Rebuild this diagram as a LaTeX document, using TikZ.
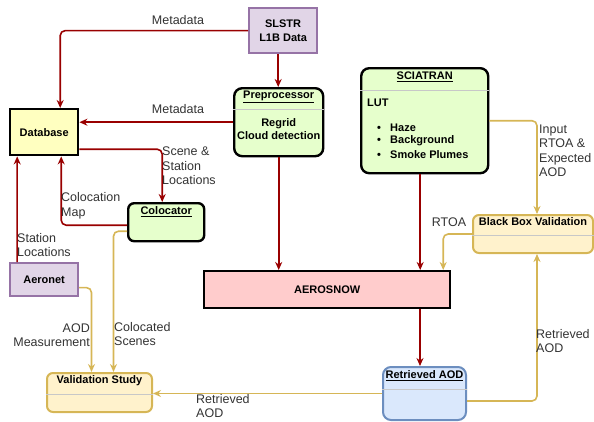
\documentclass[tikz,border=0pt]{standalone}
\usepackage{fontspec}
\setmainfont{Liberation Sans}
\usetikzlibrary{positioning,arrows.meta}

\definecolor{flowred}{HTML}{990000}
\definecolor{flowgold}{HTML}{D6B656}
\definecolor{txtgray}{HTML}{333333}
\definecolor{purfill}{HTML}{E1D5E7}
\definecolor{purline}{HTML}{9673A6}
\definecolor{dbfill}{HTML}{FFFFC0}
\definecolor{grnfill}{HTML}{E6FFCC}
\definecolor{pinkfill}{HTML}{FFCCCC}
\definecolor{ylwfill}{HTML}{FFF2CC}
\definecolor{bluefill}{HTML}{DAE8FC}
\definecolor{blueline}{HTML}{6C8EBF}
\definecolor{sepgray}{HTML}{C8C8C8}

\begin{document}
\begin{tikzpicture}[x=1pt,y=-1pt,
   blk/.style={draw=black, line width=2.4pt, anchor=north west, inner sep=0pt},
   rblk/.style={blk, rounded corners=8pt},
   src/.style={draw=purline, fill=purfill, line width=2.2pt, anchor=north west, inner sep=0pt},
   chk/.style={draw=flowgold, fill=ylwfill, line width=2pt, rounded corners=6pt, anchor=north west, inner sep=0pt},
   res/.style={draw=blueline, fill=bluefill, line width=2pt, rounded corners=8pt, anchor=north west, inner sep=0pt},
   bf/.style={font=\fontsize{11}{13.3}\selectfont\bfseries, inner sep=0pt},
   lbl/.style={font=\fontsize{12.5}{14.5}\selectfont, text=txtgray, inner sep=0pt, align=left},
   sep/.style={draw=sepgray, line width=0.9pt},
   redflow/.style={draw=flowred, line width=1.6pt, rounded corners=5pt, -{Stealth[length=8pt,width=7pt]}},
   goldflow/.style={draw=flowgold, line width=1.6pt, rounded corners=5pt, -{Stealth[length=8pt,width=7pt]}}]
   \useasboundingbox (0,0) rectangle (594,421);

   % boxes
   \node[src, bf, align=center, minimum width=68, minimum height=45] (slstr) at (248,7) {SLSTR\\L1B Data};
   \node[blk, bf, fill=dbfill, minimum width=68, minimum height=46] (db) at (9,108) {Database};
   \node[src, bf, minimum width=68, minimum height=33] (aero) at (9,262) {Aeronet};
   \node[blk, bf, fill=pinkfill, minimum width=246, minimum height=37] (snow) at (203,270) {AEROSNOW};

   \node[rblk, fill=grnfill, minimum width=89, minimum height=68] (pre) at (233,87) {};
   \node[bf] at ([yshift=-10pt]pre.north) {\underline{Preprocessor}};
   \draw[sep] ([yshift=-22pt]pre.north west) -- ([yshift=-22pt]pre.north east);
   \node[bf, align=center] at ([yshift=-42pt]pre.north) {Regrid\\Cloud detection};

   \node[rblk, fill=grnfill, minimum width=127, minimum height=105] (sci) at (360,67) {};
   \node[bf] at ([yshift=-10pt]sci.north) {\underline{SCIATRAN}};
   \draw[sep] ([yshift=-23pt]sci.north west) -- ([yshift=-23pt]sci.north east);
   \node[bf, anchor=west] at (367,103) {LUT};
   \foreach \item [count=\i] in {Haze,Background,Smoke Plumes}
      \node[bf, anchor=west] at (377,114+13.4*\i) {\makebox[13pt][l]{\textbullet}\item};

   \node[rblk, fill=grnfill, rounded corners=6pt, minimum width=76, minimum height=38] (coloc) at (127,202) {};
   \node[bf] at ([yshift=-10pt]coloc.north) {\underline{Colocator}};

   \node[chk, minimum width=120, minimum height=38] (bbv) at (472,214) {};
   \node[bf] at ([yshift=-8pt]bbv.north) {Black Box Validation};
   \draw[sep] ([yshift=-21pt]bbv.north west) -- ([yshift=-21pt]bbv.north east);

   \node[chk, minimum width=105, minimum height=39] (val) at (46,372) {};
   \node[bf] at ([yshift=-9pt]val.north) {Validation Study};
   \draw[sep] ([yshift=-22pt]val.north west) -- ([yshift=-22pt]val.north east);

   \node[res, minimum width=83, minimum height=53] (ret) at (382,366) {};
   \node[bf] at ([yshift=-10pt]ret.north) {\underline{Retrieved AOD}};
   \draw[sep] ([yshift=-23pt]ret.north west) -- ([yshift=-23pt]ret.north east);

   % red flows
   \coordinate (prex) at ([xshift=-0.5pt]pre.north);
   \coordinate (scix) at ([xshift=-4.5pt]sci.south);
   \coordinate (retx) at ([xshift=-4.5pt]ret.north);
   \draw[redflow] (slstr.west) -| ([xshift=16pt]db.north);
   \draw[redflow] (prex |- slstr.south) -- (prex);
   \draw[redflow] (pre.west) -- (pre.west -| db.east);
   \draw[redflow] ([yshift=-17pt]db.east) -| ([xshift=-4pt]coloc.north);
   \draw[redflow] ([yshift=-3pt]coloc.west) -| ([xshift=17pt]db.south);
   \draw[redflow] ([xshift=-27pt]aero.north) -- ([xshift=-27pt]db.south);
   \draw[redflow] (pre.south) -- (pre.south |- snow.north);
   \draw[redflow] (scix) -- (scix |- snow.north);
   \draw[redflow] (retx |- snow.south) -- (retx);

   % gold flows
   \draw[goldflow] (sci.east) -| ([xshift=4pt]bbv.north);
   \draw[goldflow] (bbv.west) -| ([xshift=116pt]snow.north);
   \draw[goldflow] ([yshift=-7.5pt]ret.east) -| ([xshift=4pt]bbv.south);
   \draw[goldflow] (ret.west) -- (ret.west -| val.east);
   \draw[goldflow] ([yshift=-8pt]aero.east) -| ([xshift=-8pt]val.north);
   \draw[goldflow] ([yshift=-9pt]coloc.west) -| ([xshift=14pt]val.north);

   % labels
   \node[lbl] at (178,20) {Metadata};
   \node[lbl] at (178,109) {Metadata};
   \node[lbl, anchor=west] at (162,166) {Scene \&\\Station\\Locations};
   \node[lbl, anchor=west] at (61,206) {Colocation\\Map};
   \node[lbl, anchor=west] at (17,245) {Station\\Locations};
   \node[lbl, anchor=east, align=right] at (90,335) {AOD\\Measurement};
   \node[lbl, anchor=west] at (114,334) {Colocated\\Scenes};
   \node[lbl, anchor=west] at (196,406) {Retrieved\\AOD};
   \node[lbl, anchor=west] at (539,151) {Input\\RTOA \&\\Expected\\AOD};
   \node[lbl] at (449,222) {RTOA};
   \node[lbl, anchor=west] at (536,341) {Retrieved\\AOD};
\end{tikzpicture}
\end{document}
